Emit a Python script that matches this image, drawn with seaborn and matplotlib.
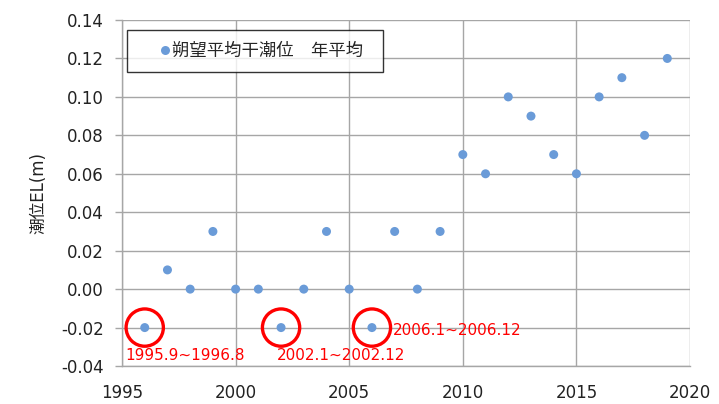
import matplotlib
matplotlib.use("Agg")
import matplotlib.pyplot as plt
import seaborn as sns
import pandas as pd

# Annual mean of the spring-tide low water level
years = [1996, 1997, 1998, 1999, 2000, 2001, 2002, 2003, 2004, 2005, 2006, 2007,
         2008, 2009, 2010, 2011, 2012, 2013, 2014, 2015, 2016, 2017, 2018, 2019]
levels = [-0.02, 0.01, 0.00, 0.03, 0.00, 0.00, -0.02, 0.00, 0.03, 0.00, -0.02, 0.03,
          0.00, 0.03, 0.07, 0.06, 0.10, 0.09, 0.07, 0.06, 0.10, 0.11, 0.08, 0.12]

# Highlighted years and their averaging periods
mark_years = [1996, 2002, 2006]
mark_levels = [-0.02, -0.02, -0.02]
mark_labels = ["1995.9~1996.8", "2002.1~2002.12", "2006.1~2006.12"]

series_name = "朔望平均干潮位　年平均"
x_ticks = [1995, 2000, 2005, 2010, 2015, 2020]
y_ticks = [-0.04, -0.02, 0.00, 0.02, 0.04, 0.06, 0.08, 0.10, 0.12, 0.14]

sns.set_theme(style="white")
plt.rcParams["font.family"] = ["DejaVu Sans", "Noto Sans CJK JP"]

df = pd.DataFrame({"year": years, "level": levels, "series": series_name})
marks = pd.DataFrame({"year": mark_years, "level": mark_levels})

fig = plt.figure(figsize=(7.19, 4.04), dpi=100)
ax = fig.add_axes([0.1697, 0.094, 0.79, 0.8565])

sns.scatterplot(data=df, x="year", y="level", hue="series",
                palette=["#6A9BD8"], s=42, edgecolor="none", ax=ax, zorder=3)
sns.scatterplot(data=marks, x="year", y="level", s=720, facecolor="none",
                edgecolor="#FF0000", linewidth=2.4, ax=ax, zorder=4, legend=False)

offsets = [(-0.87, -0.0143), (-0.18, -0.0143), (0.93, -0.0013)]
for (yr, lv, txt), (dx, dy) in zip(zip(mark_years, mark_levels, mark_labels), offsets):
    ax.text(yr + dx, lv + dy, txt, color="#FF0000", fontsize=11,
            ha="left", va="center")

ax.set_xlim(1995, 2020)
ax.set_ylim(-0.04, 0.14)
ax.set_xticks(x_ticks)
ax.set_yticks(y_ticks)
ax.set_yticklabels([f"{v:.2f}" for v in y_ticks])
ax.grid(True, color="#A6A6A6", linewidth=1.0)
ax.set_axisbelow(True)
for side in ["top", "right"]:
    ax.spines[side].set_visible(False)
for side in ["left", "bottom"]:
    ax.spines[side].set_color("#A6A6A6")
    ax.spines[side].set_linewidth(1.0)
ax.tick_params(axis="y", labelsize=12, colors="#A6A6A6", labelcolor="#222222",
               length=5, width=1, direction="out", left=True, pad=8)
ax.tick_params(axis="x", labelsize=12, labelcolor="#222222", bottom=False,
               length=0, pad=13)
ax.set_xlabel("")
ax.set_ylabel("潮位EL(m)", fontsize=12, color="#222222", labelpad=10)

handles, labels = ax.get_legend_handles_labels()
leg = ax.legend(handles, [lab + "  " for lab in labels],
                loc="upper left", bbox_to_anchor=(0.0088, 0.971), fontsize=12.5,
                frameon=True, fancybox=False, handletextpad=-1.1, borderpad=0.7,
                handlelength=3.0, borderaxespad=0, markerscale=1.0)
leg.get_frame().set_edgecolor("#000000")
leg.get_frame().set_linewidth(1.0)
for t in leg.get_texts():
    t.set_family(["Noto Sans CJK JP", "DejaVu Sans"])

fig.savefig("out.png", dpi=100)
